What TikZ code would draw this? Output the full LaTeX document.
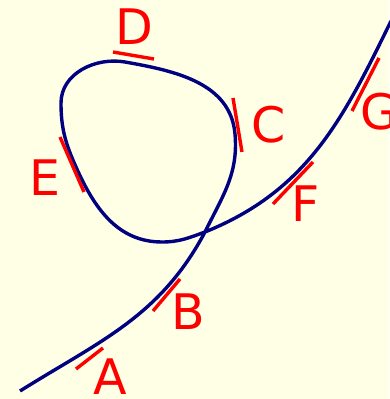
\documentclass[tikz,border=0pt]{standalone}
\usepackage{fontspec}
\setmainfont{DejaVu Sans}
\definecolor{paper}{HTML}{FFFFE5}
\definecolor{curveline}{HTML}{000080}
\definecolor{tickred}{HTML}{FF0000}
\begin{document}
\begin{tikzpicture}[x=1pt,y=1pt,
 curve/.style={draw=curveline,line width=3.4pt},
 tick/.style={draw=tickred,line width=3.4pt},
 lbl/.style={text=tickred,inner sep=0pt,font=\fontsize{49}{52}\selectfont}]
\fill[paper] (0,0) rectangle (389,399);
\useasboundingbox (0,0) rectangle (389,399);
% points on the curve
\coordinate (start) at (20,8);
\coordinate (cross) at (205,167);
\coordinate (right) at (235,265);
\coordinate (top) at (125,337);
\coordinate (left) at (61,296);
\coordinate (lowleft) at (76,232);
\coordinate (bottom) at (162,157);
\coordinate (finish) at (391,378);
\draw[curve] (start) to[out=32,in=242] (cross) to[out=64,in=275] (right)
 to[out=95,in=350] (top) to[out=170,in=90] (left) to[out=270,in=114] (lowleft)
 to[out=294,in=180] (bottom) to[out=0,in=200] (cross) to[out=22,in=244] (finish);
% tangent marks
\draw[tick] (76,30) -- (103,51);
\draw[tick] (153,88) -- (180,120);
\draw[tick] (233,301) -- (242,247);
\draw[tick] (113,347) -- (154,340);
\draw[tick] (60,262) -- (84,207);
\draw[tick] (273,195) -- (313,237);
\draw[tick] (352,288) -- (379,341);
% labels
\node[lbl] (labA) at (110,22) {A};
\node[lbl] (labB) at (188,87) {B};
\node[lbl] (labC) at (269,274) {C};
\node[lbl] (labD) at (134,372) {D};
\node[lbl] (labE) at (45,221) {E};
\node[lbl] (labF) at (306,195) {F};
\node[lbl] (labG) at (379,287) {G};
\end{tikzpicture}
\end{document}
